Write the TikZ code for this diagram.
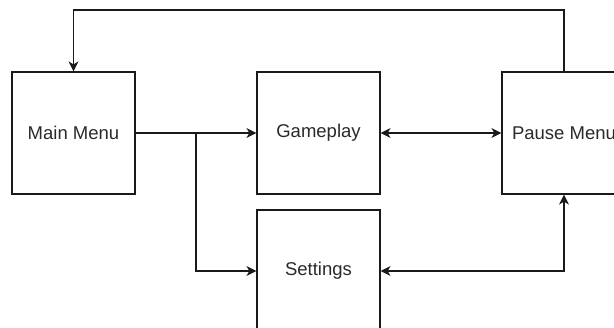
\documentclass[tikz,border=0pt]{standalone}
\usepackage{fontspec}
\setmainfont{Liberation Sans}
\usetikzlibrary{arrows.meta}
\definecolor{txt}{HTML}{2A2A2A}
\definecolor{ln}{HTML}{1A1A1A}
\begin{document}
\begin{tikzpicture}[x=1pt,y=-1pt,
  box/.style={draw=ln,line width=1.2pt,minimum width=123pt,minimum height=122pt,inner sep=0pt,
    font=\fontsize{18.5}{22}\selectfont,text=txt,fill=white},
  tip/.style={Stealth[length=10pt,width=10pt,inset=3pt]},
  conn/.style={draw=ln,line width=1.2pt,-{Stealth[length=10pt,width=10pt,inset=3pt]}},
  conn2/.style={draw=ln,line width=1.2pt,{Stealth[length=10pt,width=10pt,inset=3pt]}-{Stealth[length=10pt,width=10pt,inset=3pt]}}]
\useasboundingbox (0,0) rectangle (614,328);
\begin{scope}
\clip (0,0) rectangle (614,328);
\node[box] (main) at (73.5,133) {Main Menu};
\node[box] (game) at (318.5,133) {Gameplay};
\node[box,minimum width=124pt] (pause) at (564,133) {Pause Menu};
\node[box] (sett) at (318.5,271) {Settings};
\coordinate (branch) at (196,133);
\coordinate (topright) at (564,10);
\draw[conn] (main.east) -- (game.west);
\draw[conn] (branch) |- (sett.west);
\draw[conn2] (game.east) -- (pause.west);
\draw[conn2] (sett.east) -| (pause.south);
\draw[conn] (pause.north) -- (topright) -| (main.north);
\end{scope}
\end{tikzpicture}
\end{document}
